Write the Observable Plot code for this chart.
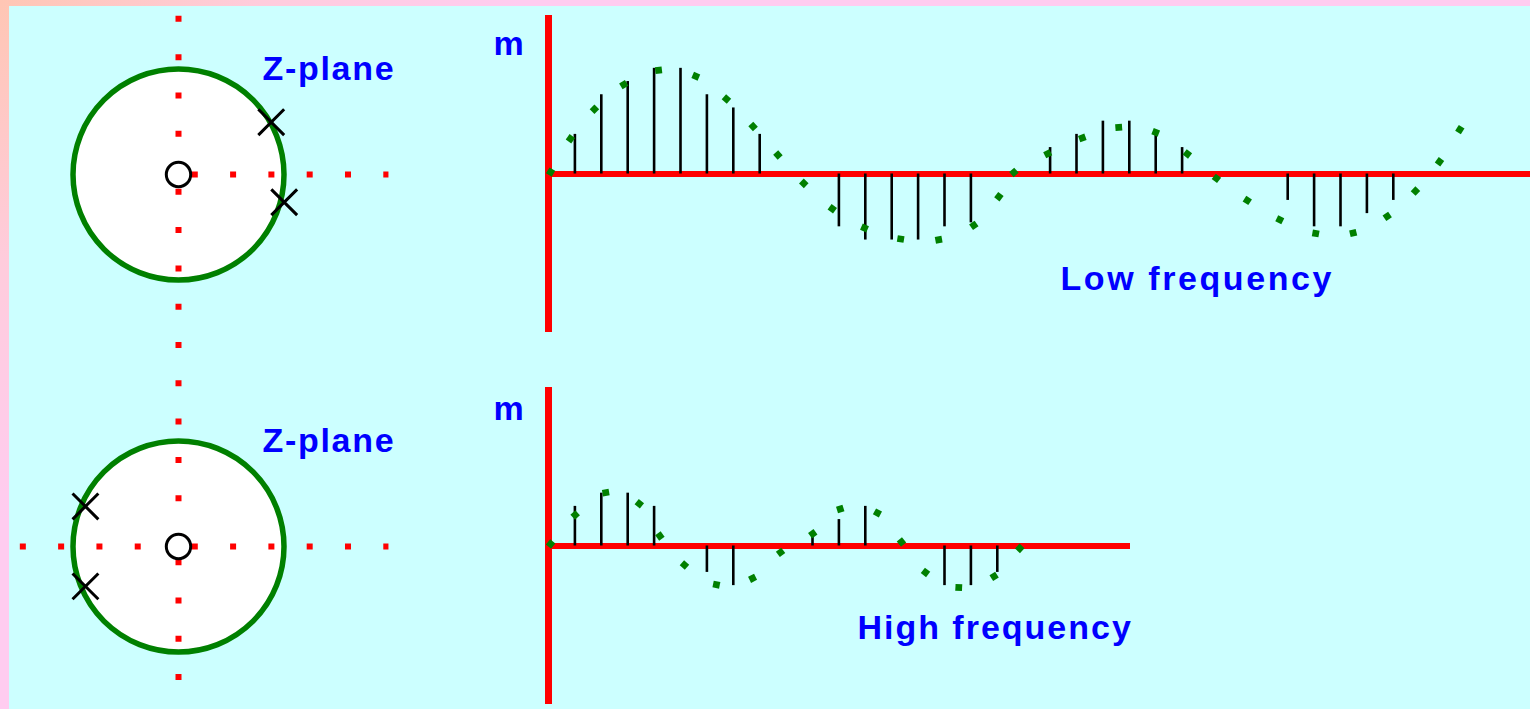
<!DOCTYPE html>
<html><head><meta charset="utf-8">
<script src="https://cdn.jsdelivr.net/npm/d3@7"></script>
<script src="https://cdn.jsdelivr.net/npm/@observablehq/plot@0.6"></script>
<style>
html,body{margin:0;padding:0;}
body{width:1530px;height:709px;overflow:hidden;position:relative;
  background:radial-gradient(circle at 0 0,#ffc6b4 0px,#ffccdc 260px,#ffccf0 520px);
  font-family:"Liberation Sans",Arial,sans-serif;}
#panel{position:absolute;left:9px;top:6px;right:0;bottom:0;background:#ccffff;}
.fig{position:absolute;}
.fig svg{overflow:visible;background:transparent;max-width:none;}
.zp text{letter-spacing:1.7px;}
#sTop text{letter-spacing:2.6px;}
#sBot text{letter-spacing:2px;}
</style></head>
<body>
<div id="panel"></div>
<div id="zTop" class="fig zp" style="left:0;top:0;width:440px;height:360px"></div>
<div id="zBot" class="fig zp" style="left:0;top:360px;width:440px;height:349px"></div>
<div id="sTop" class="fig stem" style="left:470px;top:0;width:1060px;height:345px"></div>
<div id="sBot" class="fig stem" style="left:470px;top:380px;width:660px;height:329px"></div>
<script>
// ---------- data ----------
// impulse response samples h[n], n = 0,1,2,...
const lowSamples  = [0, 3, 6, 7, 8, 8, 6, 5, 3, 0, 0, -4, -5, -5, -5, -4, -3.7, 0, 0, 2, 3, 4, 4, 3, 2, 0, 0, 0, -2, -4, -4, -3, -2];
const highSamples = [0, 3, 4, 4, 3, 0, -2, -3, 0, 0, 0.7, 2, 3, 0, 0, -3, -3, -2];

// hand-drawn dotted envelope curve (n, value)
const lowCurveN = [0.08, 0.83, 1.74, 2.85, 4.17, 5.58, 6.74, 7.75, 8.69, 9.67, 10.75, 11.97, 13.34, 14.78, 16.11, 17.06, 17.63, 18.91, 20.22, 21.6, 23.0, 24.2, 25.3, 26.47, 27.7, 29.06, 30.48, 31.77, 32.84, 33.75, 34.52];
const lowCurveV = [0.15, 2.67, 4.9, 6.77, 7.85, 7.4, 5.68, 3.6, 1.44, -0.71, -2.63, -4.09, -4.92, -4.98, -3.89, -1.72, 0.12, 1.54, 2.73, 3.53, 3.15, 1.52, -0.33, -2.0, -3.46, -4.5, -4.47, -3.21, -1.29, 0.93, 3.36];
const highCurveN = [0.08, 1.01, 2.17, 3.44, 4.22, 5.15, 6.36, 7.73, 8.79, 10.01, 11.05, 12.46, 13.37, 14.28, 15.54, 16.88, 17.85];
const highCurveV = [0.15, 2.35, 4.04, 3.2, 0.76, -1.44, -2.93, -2.45, -0.48, 0.93, 2.8, 2.5, 0.3, -2.0, -3.14, -2.3, -0.18];

// z-plane poles and zeros (re, im)
const lowPoles  = [{re: 0.879, im: 0.496}, {re: 1.002, im: -0.263}];
const highPoles = [{re: -0.882, im: 0.38}, {re: -0.882, im: -0.378}];
const zeros = [{re: 0, im: 0}];

// dotted axis segments in the z-planes
const topAxes = [
  {x1: 0, y1: 1.504, x2: 0, y2: 0},
  {x1: 0, y1: -0.1355, x2: 0, y2: -1.78},
  {x1: 0.126, y1: 0, x2: 1.99, y2: 0}
];
const botAxes = [
  {x1: 0, y1: 1.5754, x2: 0, y2: 0.0758},
  {x1: 0, y1: -0.12, x2: 0, y2: -1.56},
  {x1: -1.504, y1: 0, x2: 0, y2: 0},
  {x1: 0.126, y1: 0, x2: 1.99, y2: 0}
];

const zLabel = [{text: "Z-plane", re: 0.796, im: 0.9}];
const lowLabels  = [{text: "m", n: -2.08, v: 9.04}, {text: "Low frequency", n: 19.39, v: -8.76}];
const highLabels = [{text: "m", n: -2.08, v: 9.54}, {text: "High frequency", n: 11.7, v: -7.05}];

// ---------- layout constants ----------
const UNIT = 105.5;       // px per unit radius in z-plane
const ZCX = 178;          // circle center x (px)
const KX = 26.4, KY = 13.2; // px per sample / per amplitude unit
const FONT = "Liberation Sans, Arial, sans-serif";
const BLUE = "#0000ff", GREEN = "#008000", RED = "#ff0000";

function zPlane(el, w, h, cy, poles, axes) {
  const p = Plot.plot({
    width: w, height: h, margin: 0,
    x: {domain: [-ZCX / UNIT, (w - ZCX) / UNIT], axis: null},
    y: {domain: [-(h - cy) / UNIT, cy / UNIT], axis: null},
    style: {background: "transparent", overflow: "visible"},
    marks: [
      Plot.dot(zeros, {x: "re", y: "im", r: UNIT, fill: "white", stroke: GREEN, strokeWidth: 5.5}),
      Plot.link(axes, {x1: "x1", y1: "y1", x2: "x2", y2: "y2", stroke: RED, strokeWidth: 6, strokeDasharray: "6 32.3"}),
      Plot.dot(zeros, {x: "re", y: "im", r: 12.2, fill: "white", stroke: "black", strokeWidth: 3}),
      Plot.dot(poles, {x: "re", y: "im", symbol: "times", r: 11.8, stroke: "black", strokeWidth: 3}),
      Plot.text(zLabel, {x: "re", y: "im", text: "text", textAnchor: "start", lineAnchor: "bottom",
        fill: BLUE, fontSize: 34, fontWeight: "bold", fontFamily: FONT})
    ]
  });
  document.getElementById(el).appendChild(p);
}

function angles(ns, vs) {
  return ns.map((n, i) => {
    const a = Math.max(0, i - 1), b = Math.min(ns.length - 1, i + 1);
    const dx = (ns[b] - ns[a]) * KX, dy = -(vs[b] - vs[a]) * KY;
    return Math.atan2(dy, dx) * 180 / Math.PI;
  });
}

function stemPlot(el, w, h, ml, mt, mb, samples, cn, cv, labels) {
  const xmax = (w - ml) / KX;
  const stems = samples.map((v, n) => ({n, v})).filter(d => d.v !== 0);
  const rot = angles(cn, cv);
  const dots = cn.map((n, i) => ({n, v: cv[i], a: rot[i]}));
  const p = Plot.plot({
    width: w, height: h, marginLeft: ml, marginRight: 0, marginTop: mt, marginBottom: mb,
    x: {domain: [0, xmax], axis: null},
    y: {domain: [-12, 12], axis: null},
    style: {background: "transparent", overflow: "visible"},
    marks: [
      Plot.ruleY([0], {x1: 0, x2: xmax, stroke: RED, strokeWidth: 6}),
      Plot.ruleX([0], {y1: -12, y2: 12, stroke: RED, strokeWidth: 7}),
      Plot.ruleX(stems, {x: "n", y1: 0, y2: "v", stroke: "black", strokeWidth: 2.6}),
      Plot.dot(dots, {x: "n", y: "v", symbol: "square", r: 3.8, fill: GREEN, rotate: "a"}),
      Plot.text(labels, {x: "n", y: "v", text: "text", textAnchor: "start", lineAnchor: "bottom",
        fill: BLUE, fontSize: 34, fontWeight: "bold", fontFamily: FONT})
    ]
  });
  document.getElementById(el).appendChild(p);
}

zPlane("zTop", 440, 360, 174, lowPoles, topAxes);
zPlane("zBot", 440, 349, 186, highPoles, botAxes);
stemPlot("sTop", 1060, 345, 78, 15, 13, lowSamples, lowCurveN, lowCurveV, lowLabels);
stemPlot("sBot", 660, 329, 78, 7, 5, highSamples, highCurveN, highCurveV, highLabels);
</script>
</body></html>
